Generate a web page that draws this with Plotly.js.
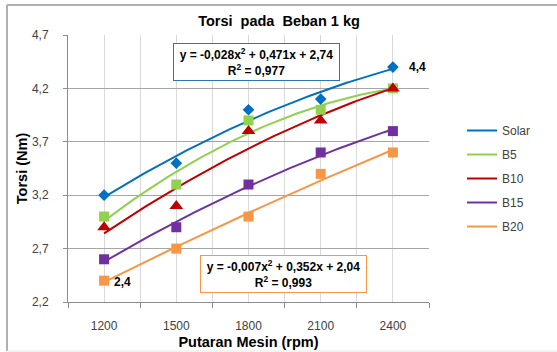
<!DOCTYPE html>
<html>
<head>
<meta charset="utf-8">
<script src="https://cdn.plot.ly/plotly-3.0.1.min.js"></script>
<style>html,body{margin:0;padding:0;background:#fff;}#chart{width:557px;height:352px;}</style>
</head>
<body>
<div id="chart"></div>
<script>
// ---- data ----
const categories = ['1200', '1500', '1800', '2100', '2400'];
const seriesNames = ['Solar', 'B5', 'B10', 'B15', 'B20'];
const solar = [3.2, 3.5, 4.0, 4.1, 4.4];
const b5 = [3.0, 3.3, 3.9, 4.0, 4.2];
const b10 = [2.9, 3.1, 3.8, 3.9, 4.2];
const b15 = [2.6, 2.9, 3.3, 3.6, 3.8];
const b20 = [2.4, 2.7, 3.0, 3.4, 3.6];
const yTickVals = [2.2, 2.7, 3.2, 3.7, 4.2, 4.7];
const yTickText = ['2,2', '2,7', '3,2', '3,7', '4,2', '4,7'];
const eqSolar = 'y = -0,028x<sup>2</sup> + 0,471x + 2,74<br>R<sup>2</sup> = 0,977';
const eqB20 = 'y = -0,007x<sup>2</sup> + 0,352x + 2,04<br>R<sup>2</sup> = 0,993';

const allSeries = [solar, b5, b10, b15, b20];
const colors = ['#0070C0', '#92D050', '#C00000', '#7030A0', '#F79646'];
const symbols = ['diamond', 'square', 'triangle-up', 'square', 'square'];
const msizes = [9, 10, 12, 10, 10];

// quadratic least-squares trendline (as Excel's polynomial trendline)
function polyfit2(ys) {
  const n = ys.length;
  const xs = ys.map((_, i) => i + 1);
  let S = [0,0,0,0,0], T = [0,0,0];
  for (let i = 0; i < n; i++) {
    let p = 1;
    for (let k = 0; k < 5; k++) { S[k] += p; p *= xs[i]; }
    T[0] += ys[i]; T[1] += ys[i]*xs[i]; T[2] += ys[i]*xs[i]*xs[i];
  }
  const M = [[S[0],S[1],S[2],T[0]],[S[1],S[2],S[3],T[1]],[S[2],S[3],S[4],T[2]]];
  for (let i = 0; i < 3; i++) {
    for (let j = i+1; j < 3; j++) {
      const f = M[j][i]/M[i][i];
      for (let k = i; k < 4; k++) M[j][k] -= f*M[i][k];
    }
  }
  const r = [0,0,0];
  for (let i = 2; i >= 0; i--) {
    let s = M[i][3];
    for (let k = i+1; k < 3; k++) s -= M[i][k]*r[k];
    r[i] = s/M[i][i];
  }
  return r; // a + b x + c x^2
}

const traces = [];
const idx = categories.map((_, i) => i);
allSeries.forEach((ys, s) => {
  const [a, b, c] = polyfit2(ys);
  const tx = [], ty = [];
  for (let i = 0; i <= 80; i++) {
    const xi = i / 80 * (categories.length - 1);
    const xv = xi + 1;
    tx.push(xi); ty.push(a + b*xv + c*xv*xv);
  }
  traces.push({
    x: tx, y: ty, type: 'scatter', mode: 'lines', name: seriesNames[s],
    legendgroup: 'g' + s, line: {color: colors[s], width: 2}, hoverinfo: 'skip'
  });
});
allSeries.forEach((ys, s) => {
  traces.push({
    x: idx, y: ys, type: 'scatter', mode: 'markers', name: seriesNames[s],
    legendgroup: 'g' + s, showlegend: false,
    marker: {color: colors[s], symbol: symbols[s], size: msizes[s]}
  });
});

const FONT = 'Liberation Sans, Arial, sans-serif';
const layout = {
  width: 557, height: 352,
  margin: {l: 68, r: 128, t: 35, b: 50},
  paper_bgcolor: '#ffffff', plot_bgcolor: '#ffffff',
  font: {family: FONT, size: 12, color: '#404040'},
  showlegend: true,
  title: {text: '<b>Torsi\u00a0 pada\u00a0 Beban 1 kg</b>', x: 279/557, xanchor: 'center', y: 1 - 21/352, yanchor: 'middle',
          font: {family: FONT, size: 14.5, color: '#000000'}},
  xaxis: {
    range: [-0.5, categories.length - 0.5], tickmode: 'array', tickvals: idx, ticktext: categories,
    showgrid: true, gridcolor: '#D9D9D9', gridwidth: 1, ticks: '', zeroline: false,
    showline: true, linecolor: '#8C8C8C', linewidth: 1, ticklabelstandoff: 13,
    tickfont: {family: FONT, size: 12, color: '#404040'},
    minor: {tickmode: 'linear', tick0: -0.5, dtick: 1, showgrid: true, gridcolor: '#D9D9D9', gridwidth: 1,
            ticks: 'outside', ticklen: 5, tickcolor: '#8C8C8C'},
    title: {text: '<b>Putaran Mesin (rpm)</b>', font: {family: FONT, size: 14.5, color: '#000000'}, standoff: 4},
    fixedrange: true
  },
  yaxis: {
    range: [2.2, 4.7], tickmode: 'array', tickvals: yTickVals, ticktext: yTickText,
    showgrid: true, gridcolor: '#A6A6A6', gridwidth: 1, zeroline: false,
    showline: true, linecolor: '#8C8C8C', linewidth: 1, ticks: 'outside', ticklen: 4, tickcolor: '#8C8C8C',
    ticklabelstandoff: 12,
    tickfont: {family: FONT, size: 12, color: '#404040'},
    title: {text: '<b>Torsi (Nm)</b>', font: {family: FONT, size: 14.5, color: '#000000'}, standoff: 0},
    fixedrange: true
  },
  legend: {
    x: (462 - 68) / 361, xanchor: 'left', y: (302 - 116) / 267, yanchor: 'top',
    traceorder: 'grouped', tracegroupgap: 5, bgcolor: 'rgba(0,0,0,0)',
    font: {family: FONT, size: 12, color: '#404040'}
  },
  annotations: [
    {xref: 'paper', yref: 'paper', x: (256.5 - 68) / 361, y: (302 - 62) / 267, xanchor: 'center', yanchor: 'middle',
     text: '<b>' + eqSolar + '</b>', showarrow: false, align: 'center',
     width: 163, height: 34, borderpad: 1, bordercolor: '#2E75B6', borderwidth: 1, bgcolor: '#ffffff',
     font: {family: FONT, size: 12, color: '#000000'}},
    {xref: 'paper', yref: 'paper', x: (283.5 - 68) / 361, y: (302 - 274) / 267, xanchor: 'center', yanchor: 'middle',
     text: '<b>' + eqB20 + '</b>', showarrow: false, align: 'center',
     width: 163, height: 34, borderpad: 1, bordercolor: '#F79646', borderwidth: 1, bgcolor: '#ffffff',
     font: {family: FONT, size: 12, color: '#000000'}},
    {xref: 'x', yref: 'y', x: categories.length - 1, y: solar[solar.length - 1], xanchor: 'left', yanchor: 'middle',
     xshift: 14, text: '<b>' + String(solar[solar.length - 1]).replace('.', ',') + '</b>', showarrow: false,
     font: {family: FONT, size: 12, color: '#000000'}},
    {xref: 'x', yref: 'y', x: 0, y: b20[0], xanchor: 'left', yanchor: 'middle',
     xshift: 8, yshift: -1, text: '<b>' + String(b20[0]).replace('.', ',') + '</b>', showarrow: false,
     font: {family: FONT, size: 12, color: '#000000'}}
  ],
  shapes: [
    {type: 'line', xref: 'paper', yref: 'paper', x0: (7 - 68) / 361, x1: (7 - 68) / 361, y0: (302 - 351) / 267, y1: (302 - 5) / 267,
     line: {color: '#B0B0B0', width: 2}},
    {type: 'line', xref: 'paper', yref: 'paper', x0: (7 - 68) / 361, x1: (570 - 68) / 361, y0: (302 - 5) / 267, y1: (302 - 5) / 267,
     line: {color: '#B0B0B0', width: 2}},
    {type: 'line', xref: 'paper', yref: 'paper', x0: (7 - 68) / 361, x1: (570 - 68) / 361, y0: (302 - 351) / 267, y1: (302 - 351) / 267,
     line: {color: '#E6E6E6', width: 1}}
  ]
};

Plotly.newPlot('chart', traces, layout, {displayModeBar: false, staticPlot: true});
</script>
</body>
</html>
